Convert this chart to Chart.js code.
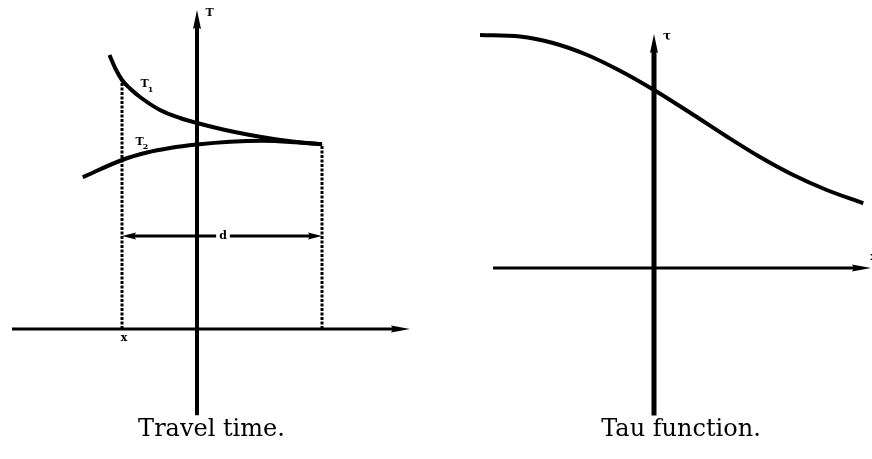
<!DOCTYPE html>
<html lang="en">
<head>
<meta charset="UTF-8" />
<title>Travel time and tau function</title>
<script src="https://cdn.jsdelivr.net/npm/chart.js"></script>
<style>
  body { margin: 0; background: #fff; }
  .panel { position: absolute; top: 0; width: 436px; height: 459px; }
</style>
</head>
<body>
<div class="panel" style="left:0"><canvas id="travelChart"></canvas></div>
<div class="panel" style="left:436px"><canvas id="tauChart"></canvas></div>

<script>
// Travel-time branches T1 and T2 against offset x
const t1X = [-3.5, -3.26, -3.0, -2.68, -2.28, -1.48, -0.68, 0, 1.04, 2.12, 3.2, 4.24, 5];
const t1T = [10.96, 10.41, 9.96, 9.62, 9.28, 8.76, 8.44, 8.24, 7.98, 7.76, 7.58, 7.45, 7.39];
const t2X = [-4.57, -3.0, -2.0, -1.08, 0, 1.32, 2.64, 3.96, 5];
const t2T = [6.07, 6.76, 7.06, 7.24, 7.38, 7.49, 7.53, 7.47, 7.39];

// Offsets bounding the distance d, and the level the d arrow is drawn at
const xNear = -3;
const xFar = 5;
const dLevel = 3.72;

// Tau function samples
const tauP = [-6.96, -5.36, -4.04, -2.69, -1.36, 0, 1.57, 2.91, 4.24, 5.57, 6.91, 8.37];
const tauV = [9.32, 9.26, 9.0, 8.53, 7.89, 7.12, 6.13, 5.26, 4.44, 3.72, 3.12, 2.59];

// Axis extents (the arrowheads sit beyond the end value)
const travelXAxis = [-7.4, 7.84];
const travelTAxis = [-3.45, 12.08];
const tauPAxis = [-6.44, 8.0];
const tauVAxis = [-5.9, 8.68];

const pts = (xs, ys) => xs.map((x, i) => ({ x, y: ys[i] }));

// draws a narrow filled arrowhead past the end(s) of datasets flagged with `arrows`
const arrowHeads = {
  id: 'arrowHeads',
  afterDatasetsDraw(chart) {
    const ctx = chart.ctx;
    chart.data.datasets.forEach((ds, i) => {
      if (!ds.arrows) return;
      const els = chart.getDatasetMeta(i).data;
      const head = (base, from) => {
        const a = Math.atan2(base.y - from.y, base.x - from.x);
        const len = ds.arrowLength, half = ds.arrowWidth / 2;
        ctx.save();
        ctx.translate(base.x, base.y);
        ctx.rotate(a);
        ctx.beginPath();
        ctx.moveTo(len, 0);
        ctx.lineTo(-2, -half);
        ctx.lineTo(0, 0);
        ctx.lineTo(-2, half);
        ctx.closePath();
        ctx.fillStyle = '#000';
        ctx.fill();
        ctx.restore();
      };
      if (ds.arrows.includes('end')) head(els[els.length - 1], els[els.length - 2]);
      if (ds.arrows.includes('start')) head(els[0], els[1]);
    });
  }
};

// text labels placed in data coordinates
const textLabels = {
  id: 'textLabels',
  afterDatasetsDraw(chart, args, opts) {
    const { ctx, scales: { x, y } } = chart;
    (opts.items || []).forEach(l => {
      const px = x.getPixelForValue(l.x);
      const py = y.getPixelForValue(l.y);
      ctx.save();
      ctx.font = l.font || 'bold 11px "DejaVu Serif"';
      ctx.textAlign = 'center';
      ctx.textBaseline = 'middle';
      const w = ctx.measureText(l.text).width;
      if (l.knockout) {
        ctx.fillStyle = '#fff';
        ctx.fillRect(px - w / 2 - 3, py - 6, w + 6, 12);
      }
      ctx.fillStyle = '#000';
      ctx.fillText(l.text, px, py);
      if (l.sub) {
        ctx.font = 'bold 8px "DejaVu Serif"';
        ctx.fillText(l.sub, px + w / 2 + 2, py + 5);
      }
      ctx.restore();
    });
  }
};

function line(data, width, extra) {
  return Object.assign({
    data,
    showLine: true,
    borderColor: '#000',
    backgroundColor: '#000',
    borderWidth: width,
    pointRadius: 0,
    borderCapStyle: 'butt',
    clip: false
  }, extra || {});
}

function caption(text) {
  return {
    display: true,
    text,
    position: 'bottom',
    color: '#000',
    font: { family: '"DejaVu Serif"', size: 24, weight: 'normal' },
    padding: { top: 0, bottom: 15 }
  };
}

const common = {
  responsive: true,
  maintainAspectRatio: false,
  animation: false,
  events: []
};

new Chart(document.getElementById('travelChart'), {
  type: 'scatter',
  data: {
    datasets: [
      line([{ x: travelXAxis[0], y: 0 }, { x: travelXAxis[1], y: 0 }], 3,
        { arrows: ['end'], arrowLength: 17, arrowWidth: 7 }),
      line([{ x: 0, y: travelTAxis[0] }, { x: 0, y: travelTAxis[1] }], 4,
        { arrows: ['end'], arrowLength: 17, arrowWidth: 8 }),
      line([{ x: xNear, y: 0 }, { x: xNear, y: t1T[2] }], 3, { borderDash: [3, 1.5] }),
      line([{ x: xFar, y: 0 }, { x: xFar, y: t1T[t1T.length - 1] }], 3, { borderDash: [3, 1.5] }),
      line([{ x: xNear + 0.48, y: dLevel }, { x: xFar - 0.48, y: dLevel }], 3,
        { arrows: ['start', 'end'], arrowLength: 12, arrowWidth: 7 }),
      line(pts(t1X, t1T), 4, { cubicInterpolationMode: 'monotone' }),
      line(pts(t2X, t2T), 4, { cubicInterpolationMode: 'monotone' })
    ]
  },
  options: Object.assign({}, common, {
    layout: { padding: { left: 0, right: 13, top: 0, bottom: 0 } },
    scales: {
      x: { type: 'linear', display: false, min: -7.88, max: 9.04 },
      y: { type: 'linear', display: false, min: -3.448, max: 13.16 }
    },
    plugins: {
      legend: { display: false },
      tooltip: { enabled: false },
      title: caption('Travel time.'),
      textLabels: {
        items: [
          { text: 'T', x: 0.5, y: 12.64 },
          { text: 'T', sub: '1', x: -2.1, y: 9.78 },
          { text: 'T', sub: '2', x: -2.3, y: 7.48 },
          { text: 'x', x: -2.92, y: -0.38 },
          { text: 'd', x: 1.04, y: dLevel, knockout: true }
        ]
      }
    }
  }),
  plugins: [arrowHeads, textLabels]
});

new Chart(document.getElementById('tauChart'), {
  type: 'scatter',
  data: {
    datasets: [
      line([{ x: tauPAxis[0], y: 0 }, { x: tauPAxis[1], y: 0 }], 3,
        { arrows: ['end'], arrowLength: 17, arrowWidth: 7 }),
      line([{ x: 0, y: tauVAxis[0] }, { x: 0, y: tauVAxis[1] }], 5,
        { arrows: ['end'], arrowLength: 17, arrowWidth: 8 }),
      line(pts(tauP, tauV), 4, { cubicInterpolationMode: 'monotone' })
    ]
  },
  options: Object.assign({}, common, {
    layout: { padding: { left: 54, right: 0, top: 0, bottom: 0 } },
    scales: {
      x: { type: 'linear', display: false, min: -6.56, max: 8.72 },
      y: { type: 'linear', display: false, min: -5.888, max: 10.72 }
    },
    plugins: {
      legend: { display: false },
      tooltip: { enabled: false },
      title: caption('Tau function.'),
      textLabels: {
        items: [
          { text: 'τ', x: 0.52, y: 9.24, font: 'bold 12px "DejaVu Serif"' },
          { text: 'x', x: 8.78, y: 0.42 }
        ]
      }
    }
  }),
  plugins: [arrowHeads, textLabels]
});
</script>
</body>
</html>
